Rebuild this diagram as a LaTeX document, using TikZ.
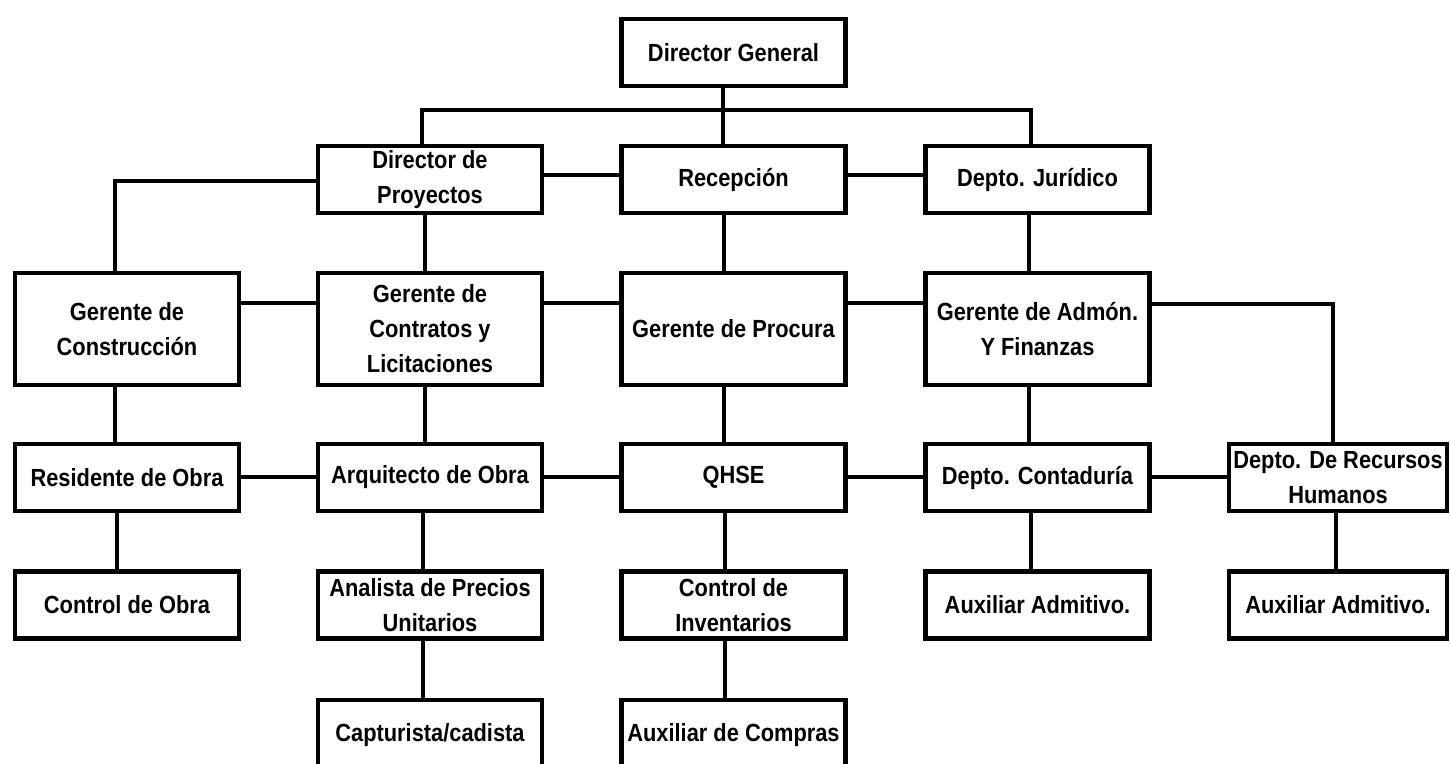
\documentclass[tikz,border=0pt]{standalone}
\usepackage{fontspec}
\newfontfamily\orgfont{Liberation Sans}[FakeStretch=0.88]
\begin{document}
\begin{tikzpicture}[x=0.5pt,y=-0.5pt,
  box/.style={draw=black, line width=2.3pt, fill=white, inner sep=0pt,
    align=center, font={\orgfont\bfseries\fontsize{12.4}{17.5}\selectfont},
    minimum width=112pt},
  h1/.style={minimum height=33.5pt},
  h3/.style={minimum height=56pt},
  conn/.style={draw=black, line width=1.6pt}]
\useasboundingbox (0,0) rectangle (1450,764);
\clip (0,0) rectangle (1450,764);
\fill[white] (0,0) rectangle (1450,764);

% row 1
\node[box,h1] (dg) at (733.5,52.5) {Director General};
% row 2
\node[box,h1] (dp)  at (430,179.5)   {Director de\\Proyectos};
\node[box,h1] (rec) at (733.5,179.5) {Recepción};
\node[box,h1] (dj)  at (1037.5,179.5) {Depto. Jurídico};
% row 3
\node[box,h3] (gc)  at (127,329)    {Gerente de\\Construcción};
\node[box,h3] (gcl) at (430,329)    {Gerente de\\Contratos y\\Licitaciones};
\node[box,h3] (gp)  at (733.5,329)  {Gerente de Procura};
\node[box,h3] (gaf) at (1037.5,329) {Gerente de Admón.\\Y Finanzas};
% row 4
\node[box,h1] (res)  at (127,477.5)    {Residente de Obra};
\node[box,h1] (arq)  at (430,477.5)    {Arquitecto de Obra};
\node[box,h1] (qhse) at (733.5,477.5)  {QHSE};
\node[box,h1] (cont) at (1037.5,477.5) {Depto. Contaduría};
\node[box,h1,minimum width=109pt] (rh) at (1338,477.5) {Depto. De Recursos\\Humanos};
% row 5
\node[box,h1] (co)   at (127,605)    {Control de Obra};
\node[box,h1] (ana)  at (430,605)    {Analista de Precios\\Unitarios};
\node[box,h1] (ci)   at (733.5,605)  {Control de\\Inventarios};
\node[box,h1] (aux1) at (1037.5,605) {Auxiliar Admitivo.};
\node[box,h1,minimum width=109pt] (aux2) at (1338,605) {Auxiliar Admitivo.};
% row 6
\node[box,minimum height=35pt] (cap)  at (430,735)   {Capturista/cadista};
\node[box,minimum height=35pt] (auxc) at (733.5,735) {Auxiliar de Compras};

% helper coordinates
\coordinate (t1) at (723,110);
\coordinate (bL) at (422,110);
\coordinate (bR) at (1031,110);
\coordinate (h2) at (0,175);
\coordinate (cGC) at (115,181);
\coordinate (vB) at (425,0);
\coordinate (vC) at (724,0);
\coordinate (vD) at (1029,0);
\coordinate (h3) at (0,303);
\coordinate (cRH) at (1333,304);
\coordinate (vA) at (115,0);
\coordinate (h4) at (0,477);
\coordinate (vA2) at (117,0);
\coordinate (vB2) at (423,0);
\coordinate (vC2) at (725,0);
\coordinate (vD2) at (1031,0);
\coordinate (vE2) at (1336,0);

% connectors (drawn behind boxes)
\begin{scope}[on background layer/.try]
\end{scope}
\draw[conn] (dg.south -| t1) -- (rec.north -| t1);
\draw[conn] (dp.north -| bL) -- (bL) -- (bR) -- (dj.north -| bR);
\draw[conn] (dp.east |- h2) -- (rec.west |- h2);
\draw[conn] (rec.east |- h2) -- (dj.west |- h2);
\draw[conn] (dp.west |- cGC) -- (cGC) -- (gc.north -| cGC);
\draw[conn] (dp.south -| vB) -- (gcl.north -| vB);
\draw[conn] (rec.south -| vC) -- (gp.north -| vC);
\draw[conn] (dj.south -| vD) -- (gaf.north -| vD);
\draw[conn] (gc.east |- h3) -- (gcl.west |- h3);
\draw[conn] (gcl.east |- h3) -- (gp.west |- h3);
\draw[conn] (gp.east |- h3) -- (gaf.west |- h3);
\draw[conn] (gaf.east |- cRH) -- (cRH) -- (rh.north -| cRH);
\draw[conn] (gc.south -| vA) -- (res.north -| vA);
\draw[conn] (gcl.south -| vB) -- (arq.north -| vB);
\draw[conn] (gp.south -| vC) -- (qhse.north -| vC);
\draw[conn] (gaf.south -| vD) -- (cont.north -| vD);
\draw[conn] (res.east |- h4) -- (arq.west |- h4);
\draw[conn] (arq.east |- h4) -- (qhse.west |- h4);
\draw[conn] (qhse.east |- h4) -- (cont.west |- h4);
\draw[conn] (cont.east |- h4) -- (rh.west |- h4);
\draw[conn] (res.south -| vA2) -- (co.north -| vA2);
\draw[conn] (arq.south -| vB2) -- (ana.north -| vB2);
\draw[conn] (qhse.south -| vC2) -- (ci.north -| vC2);
\draw[conn] (cont.south -| vD2) -- (aux1.north -| vD2);
\draw[conn] (rh.south -| vE2) -- (aux2.north -| vE2);
\draw[conn] (ana.south -| vB2) -- (cap.north -| vB2);
\draw[conn] (ci.south -| vC2) -- (auxc.north -| vC2);
\end{tikzpicture}
\end{document}
